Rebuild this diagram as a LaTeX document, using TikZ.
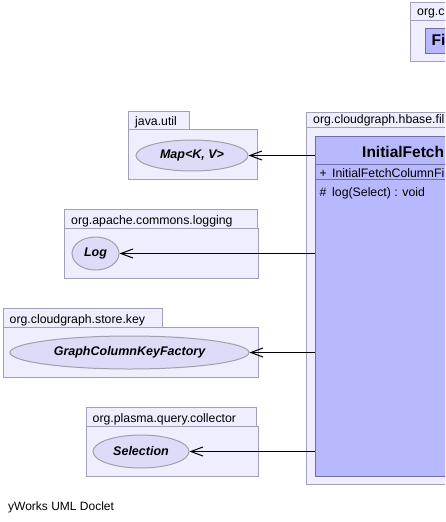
\documentclass[tikz,border=0pt]{standalone}
\usepackage{fontspec}
\setmainfont{Liberation Sans}
\usetikzlibrary{arrows.meta,shapes.geometric}
\definecolor{pkgfill}{HTML}{EEEEFF}
\definecolor{pkgline}{HTML}{A0A0B8}
\definecolor{clsfill}{HTML}{B8B8FF}
\definecolor{clsline}{HTML}{7070A0}
\definecolor{elfill}{HTML}{DCDCF8}
\definecolor{elline}{HTML}{A0A0A8}
\tikzset{
  pkgshape/.style={draw=pkgline,fill=pkgfill,line width=1pt},
  pkglabel/.style={anchor=base west,inner sep=0pt,font=\fontsize{12.3}{14}\selectfont},
  iface/.style={ellipse,draw=elline,fill=elfill,line width=1pt,inner sep=0pt,
    font=\fontsize{12.5}{14}\selectfont\bfseries\itshape},
  clsbox/.style={draw=clsline,fill=clsfill,line width=1pt,inner sep=0pt,anchor=north west},
  clstitle/.style={anchor=base west,inner sep=0pt,font=\fontsize{15.5}{18}\selectfont\bfseries},
  member/.style={anchor=base west,inner sep=0pt,font=\fontsize{12.3}{14}\selectfont},
  dep/.style={line width=1pt,-{Straight Barb[length=12pt,width=9pt,line width=1pt]}},
}
\begin{document}
\begin{tikzpicture}[x=1pt,y=-1pt]
\useasboundingbox (0,0) rectangle (445,522);
\clip (0,0) rectangle (445,522);
\fill[white] (0,0) rectangle (445,522);

% top-right package
\draw[pkgshape] (410,2.5) rectangle (460,20);
\draw[pkgshape] (410,20) rectangle (460,61);
\node[pkglabel] (pkgtr) at (417,16) {org.c};
\node[clsbox,minimum width=40pt,minimum height=25pt] (trcls) at (425,28) {};
\node[clstitle] (trtitle) at (431.5,45) {Fi};

% main package
\draw[pkgshape] (306.5,112) rectangle (460,127);
\draw[pkgshape] (306.5,127) rectangle (460,484);
\node[pkglabel] (pkgmain) at (313,123.5) {org.cloudgraph.hbase.fil};
\node[clsbox,minimum width=140pt,minimum height=340pt] (cls) at (315,136) {};
\draw[clsline,line width=1pt] (315,164.5) -- (455,164.5);
\draw[clsline,line width=1pt] (315,179.5) -- (455,179.5);
\node[clstitle] (title) at (362,157.7) {InitialFetch};
\node[member] (plus) at (319.5,177.5) {+};
\node[member] (ctor) at (332,177.5) {InitialFetchColumnFi};
\node[member] (hash) at (319.5,196) {\#};
\node[member] (meth) at (332,196) {log(Select) : void};

% java.util
\draw[pkgshape] (128,111.5) rectangle (189,129);
\draw[pkgshape] (128,129) rectangle (257,179);
\node[pkglabel] (pkgju) at (135,125.5) {java.util};
\node[iface,minimum width=112pt,minimum height=31pt] (map) at (192,155.5) {Map<K, V>};

% org.apache.commons.logging
\draw[pkgshape] (64.5,209.5) rectangle (257,228);
\draw[pkgshape] (64.5,228) rectangle (258,278);
\node[pkglabel] (pkglog) at (71,224) {org.apache.commons.logging};
\node[iface,minimum width=47pt,minimum height=33pt] (log) at (95.5,253.5) {Log};

% org.cloudgraph.store.key
\draw[pkgshape] (3,308.5) rectangle (162,327);
\draw[pkgshape] (3,327) rectangle (258,377);
\node[pkglabel] (pkgkey) at (9.5,323) {org.cloudgraph.store.key};
\node[iface,minimum width=239pt,minimum height=33pt] (gckf) at (129.5,352.5) {GraphColumnKeyFactory};

% org.plasma.query.collector
\draw[pkgshape] (86,407.5) rectangle (256,426);
\draw[pkgshape] (86,426) rectangle (258,476);
\node[pkglabel] (pkgsel) at (92.5,422) {org.plasma.query.collector};
\node[iface,minimum width=96pt,minimum height=33pt] (sel) at (141,451.5) {Selection};

% dependencies
\draw[dep] (cls.west |- map.east) -- (map.east);
\draw[dep] (cls.west |- log.east) -- (log.east);
\draw[dep] (cls.west |- gckf.east) -- (gckf.east);
\draw[dep] (cls.west |- sel.east) -- (sel.east);

\node[member,font=\fontsize{12}{14}\selectfont] (credit) at (8,510) {yWorks UML Doclet};
\end{tikzpicture}
\end{document}
